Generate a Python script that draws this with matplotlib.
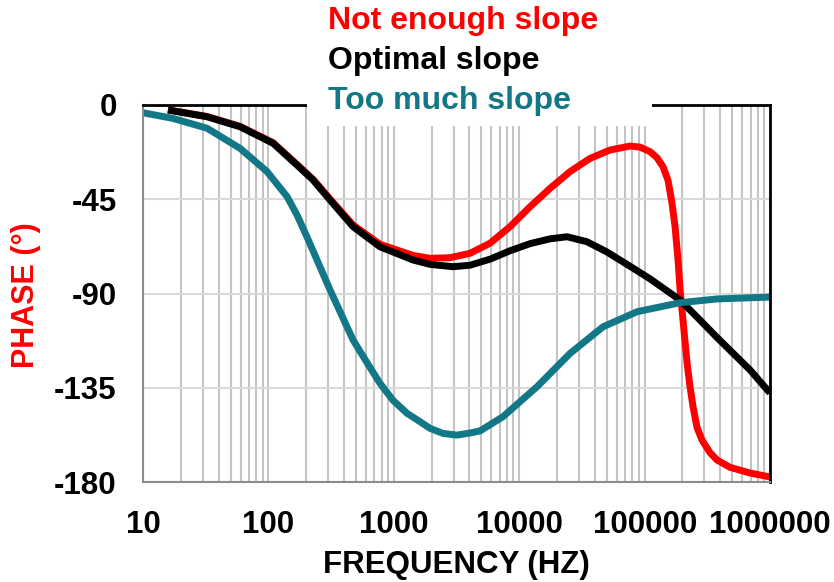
import matplotlib
matplotlib.use("Agg")
import matplotlib.pyplot as plt
from matplotlib.patches import Rectangle
from matplotlib.ticker import FixedLocator, LogLocator, NullFormatter

plt.rcParams['font.family'] = ['Liberation Sans', 'DejaVu Sans']
plt.rcParams['font.weight'] = 'bold'

# phase curves (frequency in Hz, phase in degrees)
freq_low = [15.8, 32.4, 59.4, 109, 169, 227, 310, 473, 776, 1422, 1945, 2807,
            4053, 5850, 8445, 12190, 17610, 25420, 36700, 52970, 76480, 91900,
            110400, 125600, 140200, 153700, 165400, 174800, 184700, 191600,
            198800, 206200, 217900, 230100, 243200, 261800, 286900, 332300,
            377900, 479800, 692800, 1000000]
not_enough = [-2.3, -5.5, -10.2, -18, -28.4, -35.5, -44.9, -57.3, -66.5, -71.8,
              -73.2, -72.9, -70.8, -66, -58.1, -48.6, -39.8, -31.8, -25.5,
              -21.5, -19.6, -20.1, -22.3, -25.2, -29.5, -36, -47, -58, -74,
              -88, -98, -108, -123, -134.5, -144, -154, -160, -166, -169.5,
              -173, -175.7, -177.6]

freq_opt = [15.8, 32.4, 59.4, 109, 169, 227, 310, 473, 776, 1422, 1945, 2965,
            4053, 5850, 8445, 12190, 17610, 24060, 34730, 50150, 76480, 110400,
            191600, 276600, 377900, 692800, 1000000]
optimal = [-2.4, -5.6, -10.4, -18.3, -28.7, -35.8, -45.4, -58.1, -67.7, -74,
           -76.1, -77.2, -76.5, -73.6, -69.6, -66.2, -63.9, -62.9, -65.3, -70.2,
           -77, -83, -93.1, -102.7, -111, -126.5, -137.5]

freq_much = [10, 17.3, 32.4, 59.4, 97.5, 141, 169, 203, 310, 473, 611, 776,
             985, 1275, 1618, 1945, 2469, 3190, 4053, 4868, 7425, 13870, 25420,
             46600, 86990, 191600, 377900, 1000000]
too_much = [-3.7, -6.4, -11.1, -20.7, -31.8, -43.8, -52.5, -63, -88.3, -112.2,
            -123, -132.9, -141, -147.2, -151.2, -154.4, -156.8, -157.6, -156.6,
            -155.6, -148.8, -134.5, -118.6, -105.9, -98.7, -94.4, -92.6, -91.7]

series_names = ['Not enough slope', 'Optimal slope', 'Too much slope']
series_colors = ['#ff0000', '#000000', '#127786']
y_ticks = [0, -45, -90, -135, -180]
x_ticks = [10, 100, 1000, 10000, 100000, 1000000]

fig = plt.figure(figsize=(8.34, 5.82), dpi=100)
ax = fig.add_axes([0.1715, 0.1718, 0.7518, 0.6478])

curves = [(freq_low, not_enough), (freq_opt, optimal), (freq_much, too_much)]
for (f, p), name, c in zip(curves, series_names, series_colors):
    ax.plot(f, p, color=c, lw=5, label=name, solid_joinstyle='round',
            solid_capstyle='butt')

ax.set_xscale('log')
ax.set_xlim(10, 1e6)
ax.set_ylim(-180, 0)
ax.xaxis.set_major_locator(FixedLocator(x_ticks))
ax.xaxis.set_minor_locator(LogLocator(base=10, subs=range(2, 10)))
ax.xaxis.set_minor_formatter(NullFormatter())
ax.set_xticklabels([str(v) for v in x_ticks])
ax.set_yticks(y_ticks)
ax.set_yticklabels([str(v) for v in y_ticks])
ax.tick_params(which='both', length=0, labelsize=22.5)
ax.tick_params(axis='y', pad=19)
ax.tick_params(axis='x', pad=20)

ax.grid(True, which='both', axis='x', color='#c4c4c4', lw=1.5)
ax.grid(True, which='major', axis='y', color='#d9d9d9', lw=1.5)
ax.set_axisbelow(True)

for side in ['top', 'right']:
    ax.spines[side].set_color('black')
    ax.spines[side].set_linewidth(2)
for side in ['left', 'bottom']:
    ax.spines[side].set_color('#8c8c8c')
    ax.spines[side].set_linewidth(1.5)

ax.set_xlabel('FREQUENCY (HZ)', fontsize=22.5, fontweight='bold', va='center')
ax.xaxis.set_label_coords(0.5, -0.220)
ax.set_ylabel('PHASE (°)', fontsize=22, fontweight='bold', color='#ff0000',
              va='center')
ax.yaxis.set_label_coords(-0.187, 0.496)

# white box behind the legend, hiding the top spine and grid there
ax.add_patch(Rectangle((0.368, 0.7835), 0.414, 0.3, transform=fig.transFigure,
                       facecolor='white', edgecolor='none', clip_on=False,
                       zorder=4))

leg = ax.legend(loc='upper left', bbox_to_anchor=(0.3933, 0.989),
                bbox_transform=fig.transFigure, handlelength=0,
                handletextpad=0, labelcolor='linecolor', frameon=False,
                borderpad=0, borderaxespad=0, labelspacing=0.31,
                prop={'size': 23, 'weight': 'bold'})
for h in leg.legend_handles:
    h.set_visible(False)

fig.savefig('out.png', dpi=100)
